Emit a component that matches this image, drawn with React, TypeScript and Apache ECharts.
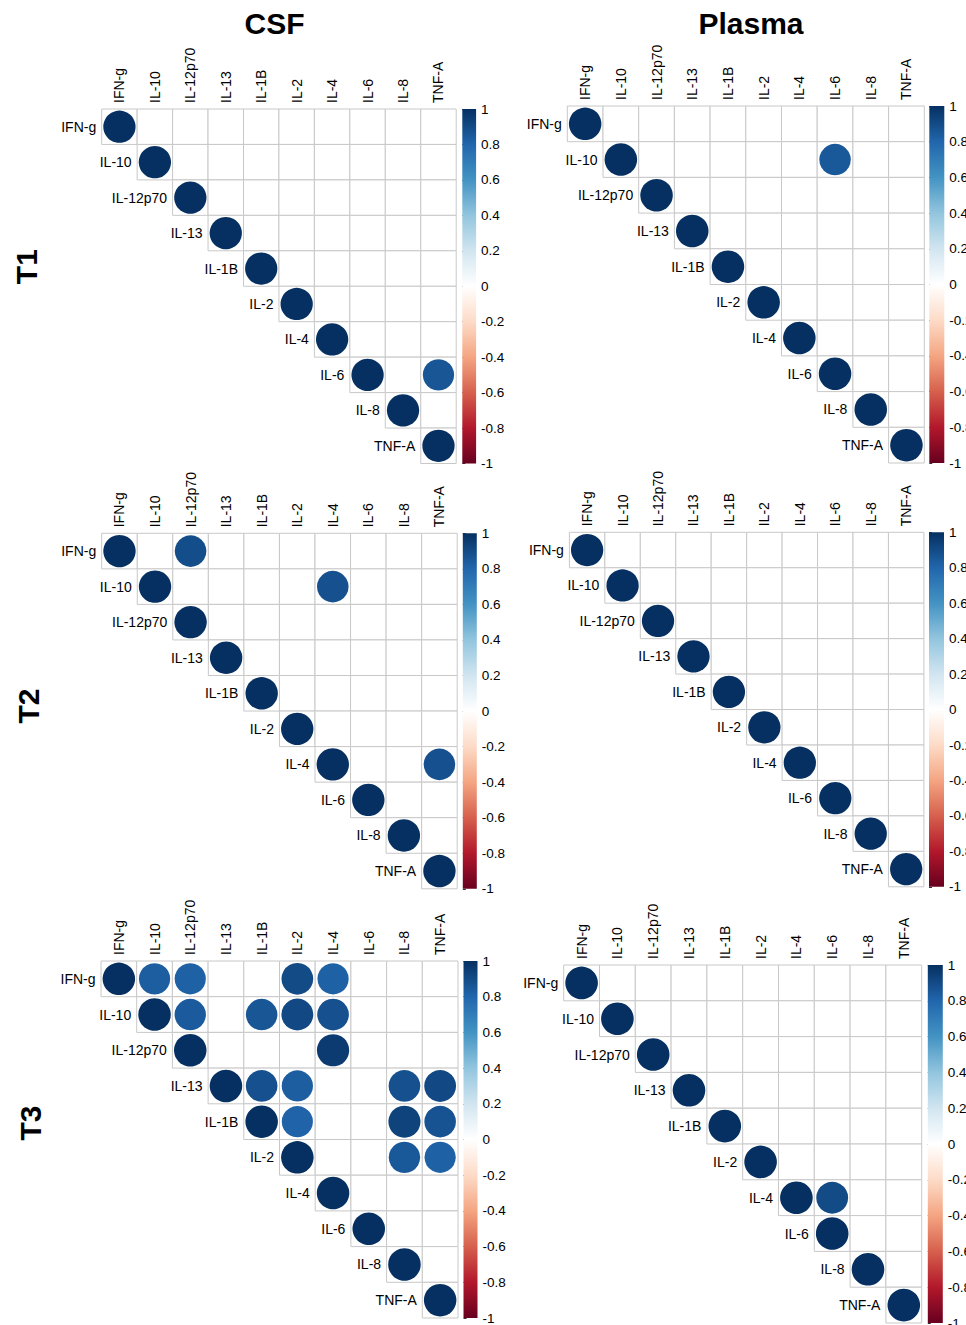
import React, { useEffect, useRef } from "react";
import * as echarts from "echarts";

// ---- data ----
const names = ["IFN-g", "IL-10", "IL-12p70", "IL-13", "IL-1B", "IL-2", "IL-4", "IL-6", "IL-8", "TNF-A"];
const columnTitles = ["CSF", "Plasma"];
const rowTitles = ["T1", "T2", "T3"];

// off-diagonal correlations shown (row, column, r); diagonal is 1
const csfT1: [string, string, number][] = [["IL-6", "TNF-A", 0.86]];
const plasmaT1: [string, string, number][] = [["IL-10", "IL-6", 0.85]];
const csfT2: [string, string, number][] = [
  ["IFN-g", "IL-12p70", 0.89],
  ["IL-10", "IL-4", 0.88],
  ["IL-4", "TNF-A", 0.88],
];
const plasmaT2: [string, string, number][] = [];
const csfT3: [string, string, number][] = [
  ["IFN-g", "IL-10", 0.83],
  ["IFN-g", "IL-12p70", 0.82],
  ["IFN-g", "IL-2", 0.9],
  ["IFN-g", "IL-4", 0.82],
  ["IL-10", "IL-12p70", 0.84],
  ["IL-10", "IL-1B", 0.86],
  ["IL-10", "IL-2", 0.91],
  ["IL-10", "IL-4", 0.88],
  ["IL-12p70", "IL-4", 0.96],
  ["IL-13", "IL-1B", 0.88],
  ["IL-13", "IL-2", 0.83],
  ["IL-13", "IL-8", 0.88],
  ["IL-13", "TNF-A", 0.91],
  ["IL-1B", "IL-2", 0.81],
  ["IL-1B", "IL-8", 0.93],
  ["IL-1B", "TNF-A", 0.87],
  ["IL-2", "IL-8", 0.85],
  ["IL-2", "TNF-A", 0.82],
];
const plasmaT3: [string, string, number][] = [["IL-4", "IL-6", 0.9]];

const diagonal = names.map(() => 1);
const colorRange = [-1, 1];
const colorInterval = 0.2;

// RdBu palette, from -1 to 1
const rdbu = ["#67001F", "#B2182B", "#D6604D", "#F4A582", "#FDDBC7", "#FFFFFF", "#D1E5F0", "#92C5DE", "#4393C3", "#2166AC", "#053061"];

const FONT = "'Liberation Sans', Arial, Helvetica, sans-serif";

// ---- layout ----
const panels = [
  { data: csfT1, left: 101.7, top: 109, size: 354.5, cbLeft: 462.3, cbWidth: 13.8 },
  { data: plasmaT1, left: 567.3, top: 106, size: 357, cbLeft: 929.3, cbWidth: 15 },
  { data: csfT2, left: 101.7, top: 533.3, size: 355.5, cbLeft: 462.8, cbWidth: 14 },
  { data: plasmaT2, left: 569.4, top: 532.3, size: 354.5, cbLeft: 929, cbWidth: 15 },
  { data: csfT3, left: 101, top: 961, size: 357, cbLeft: 463.5, cbWidth: 14 },
  { data: plasmaT3, left: 563.7, top: 965, size: 358, cbLeft: 927.8, cbWidth: 15 },
];
const colTitlePos = [
  { x: 274.5, y: 23.5 },
  { x: 751, y: 23.5 },
];
const rowTitlePos = [
  { x: 26, y: 266.7 },
  { x: 28, y: 706 },
  { x: 30, y: 1123 },
];

function buildOption() {
  const grid: any[] = [];
  const xAxis: any[] = [];
  const yAxis: any[] = [];
  const series: any[] = [];
  const circleIdx: number[] = [];

  panels.forEach((p) => {
    const g = grid.length;
    const cell = p.size / names.length;
    grid.push({ left: p.left, top: p.top, width: p.size, height: p.size, outerBoundsMode: "none", containLabel: false });
    xAxis.push({ gridIndex: g, type: "category", data: names, position: "top", show: false });
    yAxis.push({ gridIndex: g, type: "category", data: names, inverse: true, show: false });

    const cells: number[][] = [];
    names.forEach((_, r) =>
      names.forEach((__, c) => {
        if (c >= r) cells.push([c, r, c === r ? 1 : 0]);
      })
    );
    series.push({
      type: "custom",
      xAxisIndex: g,
      yAxisIndex: g,
      data: cells,
      silent: true,
      clip: false,
      z: 1,
      renderItem: (_params: any, api: any) => {
        const c = api.value(0);
        const r = api.value(1);
        const d = api.value(2);
        const pt = api.coord([c, r]);
        const sz = api.size([1, 1]);
        const x0 = pt[0] - sz[0] / 2;
        const y0 = pt[1] - sz[1] / 2;
        const children: any[] = [
          {
            type: "rect",
            shape: { x: x0, y: y0, width: sz[0], height: sz[1] },
            style: { fill: "#fff", stroke: "#C8C8C8", lineWidth: 1 },
          },
        ];
        if (d) {
          children.push({
            type: "text",
            style: {
              text: names[r],
              x: x0 - 5.5,
              y: pt[1],
              align: "right",
              verticalAlign: "middle",
              textAlign: "right",
              textVerticalAlign: "middle",
              fontSize: 14,
              fontFamily: FONT,
              fill: "#000",
            },
          });
        }
        if (r === 0) {
          children.push({
            type: "text",
            x: pt[0],
            y: y0 - 6,
            rotation: Math.PI / 2,
            style: {
              text: names[c],
              x: 0,
              y: 0,
              align: "left",
              verticalAlign: "middle",
              textAlign: "left",
              textVerticalAlign: "middle",
              fontSize: 14,
              fontFamily: FONT,
              fill: "#000",
            },
          });
        }
        return { type: "group", children };
      },
    });

    const pts: number[][] = diagonal
      .map((v, k) => [k, k, v])
      .concat(p.data.map(([a, b, v]) => [names.indexOf(b), names.indexOf(a), v]));
    circleIdx.push(series.length);
    series.push({
      type: "scatter",
      xAxisIndex: g,
      yAxisIndex: g,
      data: pts,
      symbol: "circle",
      z: 3,
      silent: true,
      symbolSize: (v: number[]) => cell * 0.91 * Math.pow(Math.abs(v[2]), 0.2),
      itemStyle: { opacity: 1 },
    });

    // colour bar
    const gc = grid.length;
    grid.push({ left: p.cbLeft, top: p.top, width: p.cbWidth, height: p.size, outerBoundsMode: "none", containLabel: false });
    xAxis.push({ gridIndex: gc, type: "value", min: 0, max: 1, show: false });
    yAxis.push({
      gridIndex: gc,
      type: "value",
      min: colorRange[0],
      max: colorRange[1],
      interval: colorInterval,
      position: "right",
      axisLine: { show: false },
      axisTick: { show: true, length: 3, lineStyle: { color: "#333", width: 1 } },
      splitLine: { show: false },
      axisLabel: { margin: 5, fontSize: 13.5, color: "#000", fontFamily: FONT },
    });
    const stops = rdbu
      .slice()
      .reverse()
      .map((c, k) => ({ offset: k / (rdbu.length - 1), color: c }));
    series.push({
      type: "custom",
      xAxisIndex: gc,
      yAxisIndex: gc,
      data: [[0, colorRange[1], 1, colorRange[0]]],
      silent: true,
      renderItem: (_params: any, api: any) => {
        const a = api.coord([api.value(0), api.value(1)]);
        const b = api.coord([api.value(2), api.value(3)]);
        return {
          type: "rect",
          shape: { x: a[0], y: a[1], width: b[0] - a[0], height: b[1] - a[1] },
          style: { fill: new echarts.graphic.LinearGradient(0, 0, 0, 1, stops) },
        };
      },
    });
  });

  const graphic: any[] = [];
  columnTitles.forEach((t, i) => {
    graphic.push({
      type: "text",
      x: colTitlePos[i].x,
      y: colTitlePos[i].y,
      style: {
        text: t,
        fontSize: 30,
        fontWeight: "bold",
        fontFamily: FONT,
        fill: "#000",
        textAlign: "center",
        textVerticalAlign: "middle",
        align: "center",
        verticalAlign: "middle",
      },
    });
  });
  rowTitles.forEach((t, i) => {
    graphic.push({
      type: "text",
      x: rowTitlePos[i].x,
      y: rowTitlePos[i].y,
      rotation: Math.PI / 2,
      style: {
        text: t,
        fontSize: 30,
        fontWeight: "bold",
        fontFamily: FONT,
        fill: "#000",
        textAlign: "center",
        textVerticalAlign: "middle",
        align: "center",
        verticalAlign: "middle",
      },
    });
  });

  return {
    animation: false,
    backgroundColor: "#fff",
    grid,
    xAxis,
    yAxis,
    visualMap: [
      {
        type: "continuous",
        show: false,
        min: colorRange[0],
        max: colorRange[1],
        dimension: 2,
        seriesIndex: circleIdx,
        inRange: { color: rdbu },
      },
    ],
    series,
    graphic,
  };
}

export default function App() {
  const ref = useRef<HTMLDivElement>(null);
  useEffect(() => {
    if (!ref.current) return;
    const chart = echarts.init(ref.current, undefined, { renderer: "svg" });
    chart.setOption(buildOption() as any);
    return () => chart.dispose();
  }, []);
  return <div ref={ref} style={{ position: "fixed", left: 0, top: 0, width: 966, height: 1325 }} />;
}
